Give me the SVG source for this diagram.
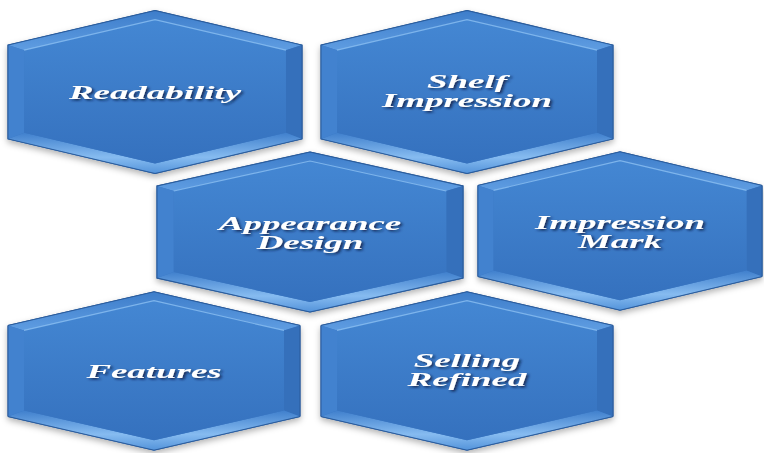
<svg xmlns="http://www.w3.org/2000/svg" xmlns:xlink="http://www.w3.org/1999/xlink" width="764" height="453" viewBox="0 0 764 453">
<defs>
<linearGradient id="face" x1="0" y1="0" x2="0" y2="1">
<stop offset="0" stop-color="#4487d3"/>
<stop offset="1" stop-color="#3571be"/>
</linearGradient>
<linearGradient id="botfacet" x1="0" y1="0" x2="0" y2="1">
<stop offset="0" stop-color="#4080cd"/>
<stop offset="0.6" stop-color="#86bbf0"/>
<stop offset="1" stop-color="#5393da"/>
</linearGradient>
<linearGradient id="topfacet" x1="0" y1="0" x2="0" y2="1">
<stop offset="0" stop-color="#3d7dca"/>
<stop offset="1" stop-color="#5f9de2"/>
</linearGradient>
<filter id="shadow" x="-10%" y="-10%" width="120%" height="130%">
<feDropShadow dx="0" dy="3" stdDeviation="3" flood-color="#000" flood-opacity="0.3"/>
</filter>
<filter id="tshadow" x="-10%" y="-30%" width="120%" height="160%">
<feDropShadow dx="1" dy="1.5" stdDeviation="0.8" flood-color="#0a1f3f" flood-opacity="0.8"/>
</filter>
<g id="hex">
<polygon points="0,-80 146,-46 146,46 0,80 -146,46 -146,-46" fill="#3a78c4" stroke="#2a5c9c" stroke-width="1" filter="url(#shadow)"/>
<polygon points="-146,-46 0,-80 0,-71 -130,-41" fill="url(#topfacet)"/>
<polygon points="0,-80 146,-46 130,-41 0,-71" fill="url(#topfacet)"/>
<polygon points="146,-46 146,46 130,40 130,-41" fill="#3570bb"/>
<polygon points="146,46 0,80 0,70 130,40" fill="url(#botfacet)"/>
<polygon points="0,80 -146,46 -130,40 0,70" fill="url(#botfacet)"/>
<polygon points="-146,46 -146,-46 -130,-41 -130,40" fill="#4282cf"/>
<polygon points="0,-71 130,-41 130,40 0,70 -130,40 -130,-41" fill="url(#face)"/>
<polyline points="-130,-41 0,-71 130,-41" fill="none" stroke="#8cc0f2" stroke-width="1.2" stroke-opacity="0.8"/>
<polygon points="-146,-46 0,-80 146,-46 146,46 0,80 -146,46" fill="none" stroke="#2a5c9c" stroke-width="1"/>
</g>
</defs>
<style>
.lbl{font-family:"Liberation Serif","Times New Roman",serif;font-weight:bold;font-style:italic;font-size:18px;fill:#ffffff;text-anchor:middle;filter:url(#tshadow);}
</style>
<rect width="764" height="453" fill="#ffffff"/>
<g id="connectors"/>
<g id="node-readability">
<use xlink:href="#hex" href="#hex" transform="translate(155,92) scale(1.007,1.02)"/>
<text class="lbl" transform="translate(155,99) scale(2.05,1)">Readability</text>
</g>
<g id="node-shelf-impression">
<use xlink:href="#hex" href="#hex" transform="translate(467,92) scale(1,1.02)"/>
<text class="lbl" transform="translate(467,88) scale(2.05,1)">Shelf</text>
<text class="lbl" transform="translate(467,107) scale(2.05,1)">Impression</text>
</g>
<g id="node-appearance-design">
<use xlink:href="#hex" href="#hex" transform="translate(310,232) scale(1.048,1)"/>
<text class="lbl" transform="translate(310,230) scale(2.05,1)">Appearance</text>
<text class="lbl" transform="translate(310,249) scale(2.05,1)">Design</text>
</g>
<g id="node-impression-mark">
<use xlink:href="#hex" href="#hex" transform="translate(620,231) scale(0.973,0.99)"/>
<text class="lbl" transform="translate(620,229) scale(2.05,1)">Impression</text>
<text class="lbl" transform="translate(620,248) scale(2.05,1)">Mark</text>
</g>
<g id="node-features">
<use xlink:href="#hex" href="#hex" transform="translate(154,371) scale(1,0.99)"/>
<text class="lbl" transform="translate(154,378) scale(2.05,1)">Features</text>
</g>
<g id="node-selling-refined">
<use xlink:href="#hex" href="#hex" transform="translate(467,371) scale(1,0.99)"/>
<text class="lbl" transform="translate(467,367) scale(2.05,1)">Selling</text>
<text class="lbl" transform="translate(467,386) scale(2.05,1)">Refined</text>
</g>
</svg>
